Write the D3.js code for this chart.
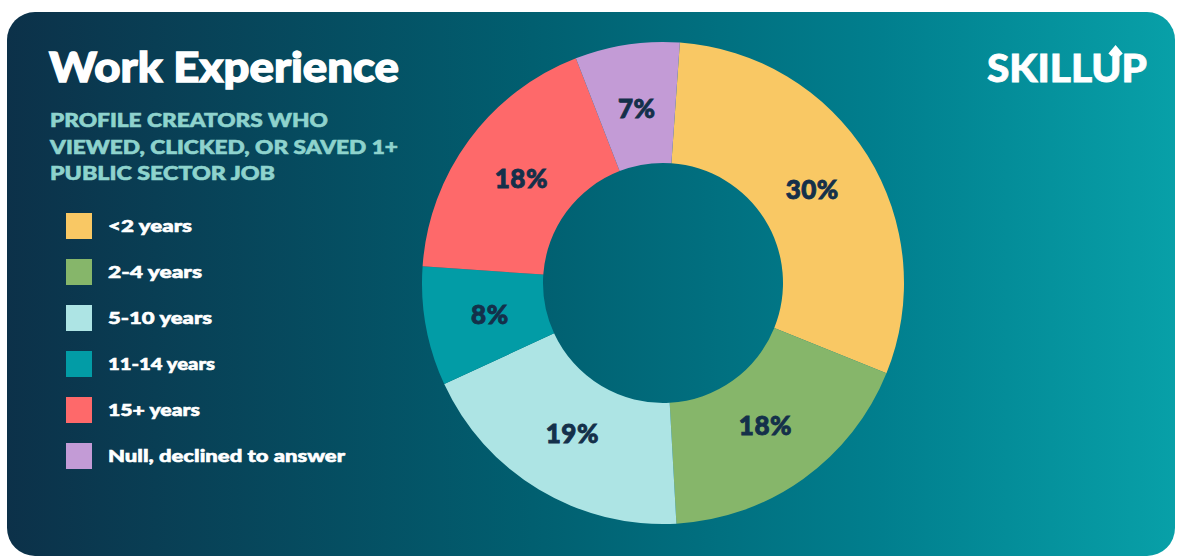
<!DOCTYPE html>
<html>
<head>
<meta charset="utf-8">
<script src="https://cdn.jsdelivr.net/npm/d3@7"></script>
<style>
  body { margin: 0; background: #ffffff; }
  svg { display: block; }
  text { font-family: Lato, "Noto Sans", sans-serif; }
</style>
</head>
<body>
<div id="chart"></div>
<script>
// data
const categories = ["<2 years", "2-4 years", "5-10 years", "11-14 years", "15+ years", "Null, declined to answer"];
const shares = [30, 18, 19, 8, 18, 7];
const sliceColors = ["#f9c864", "#86b66a", "#ade4e4", "#029ca6", "#fe696a", "#c39bd6"];
const titleText = "Work Experience";
const subtitleLines = ["PROFILE CREATORS WHO", "VIEWED, CLICKED, OR SAVED 1+", "PUBLIC SECTOR JOB"];

const width = 1177, height = 557;

const svg = d3.select("#chart").append("svg")
    .attr("width", width)
    .attr("height", height);

// stretch a text to a wanted width (the source font is wider than Lato)
function fitWidth(sel, w) {
    sel.attr("textLength", w).attr("lengthAdjust", "spacingAndGlyphs");
}

// background card
const defs = svg.append("defs");
const grad = defs.append("linearGradient")
    .attr("id", "bg")
    .attr("x1", "0%").attr("x2", "100%")
    .attr("y1", "0%").attr("y2", "0%");
grad.append("stop").attr("offset", "0%").attr("stop-color", "#0c3149");
grad.append("stop").attr("offset", "45%").attr("stop-color", "#015f70");
grad.append("stop").attr("offset", "75%").attr("stop-color", "#017f8e");
grad.append("stop").attr("offset", "100%").attr("stop-color", "#08a0a8");

svg.append("rect")
    .attr("x", 7).attr("y", 12)
    .attr("width", 1168).attr("height", 544)
    .attr("rx", 28)
    .attr("fill", "url(#bg)");

// title + subtitle
svg.append("text")
    .attr("x", 49).attr("y", 82)
    .attr("fill", "#ffffff")
    .attr("stroke", "#ffffff").attr("stroke-width", 1.3)
    .attr("font-size", 41)
    .attr("font-weight", 900)
    .text(titleText)
    .call(fitWidth, 350);

const subWidths = [278, 348, 225];
svg.append("g").selectAll("text")
    .data(subtitleLines)
    .join("text")
    .attr("x", 50)
    .attr("y", (d, i) => 127 + i * 26.5)
    .attr("fill", "#8ed3cd")
    .attr("stroke", "#8ed3cd").attr("stroke-width", 0.6)
    .attr("font-size", 18)
    .attr("font-weight", 900)
    .text(d => d)
    .each(function (d, i) { d3.select(this).call(fitWidth, subWidths[i]); });

// legend
const legend = svg.append("g").attr("class", "legend");
const legendY = d3.scalePoint()
    .domain(categories)
    .range([213, 443]);

const rows = legend.selectAll("g")
    .data(categories)
    .join("g")
    .attr("transform", d => `translate(66,${legendY(d)})`);

rows.append("rect")
    .attr("width", 26).attr("height", 26)
    .attr("fill", (d, i) => sliceColors[i]);

const labelWidths = [84, 94, 104, 107, 92, 237];
rows.append("text")
    .attr("x", 42).attr("y", 19)
    .attr("fill", "#ffffff")
    .attr("stroke", "#ffffff").attr("stroke-width", 0.6)
    .attr("font-size", 17.5)
    .attr("font-weight", 900)
    .text(d => d)
    .each(function (d, i) { d3.select(this).call(fitWidth, labelWidths[i]); });

// donut
const cx = 663, cy = 283;
const outerR = 241, innerR = 120;
const offset = 0.07;

const pie = d3.pie()
    .sort(null)
    .startAngle(offset)
    .endAngle(offset + 2 * Math.PI)
    .value(d => d);

const arc = d3.arc()
    .innerRadius(innerR)
    .outerRadius(outerR);

const labelArc = d3.arc()
    .innerRadius(176)
    .outerRadius(176);

const donut = svg.append("g")
    .attr("transform", `translate(${cx},${cy})`);

const arcs = pie(shares);

donut.selectAll("path")
    .data(arcs)
    .join("path")
    .attr("d", arc)
    .attr("fill", (d, i) => sliceColors[i]);

donut.selectAll("text")
    .data(arcs)
    .join("text")
    .attr("transform", d => `translate(${labelArc.centroid(d)})`)
    .attr("text-anchor", "middle")
    .attr("dy", "0.36em")
    .attr("fill", "#14304a")
    .attr("stroke", "#14304a").attr("stroke-width", 0.9)
    .attr("font-size", 26)
    .attr("font-weight", 900)
    .attr("letter-spacing", 0.5)
    .text(d => d.data + "%");

// logo
const logo = svg.append("text")
    .attr("x", 987).attr("y", 82)
    .attr("fill", "#ffffff")
    .attr("stroke", "#ffffff").attr("stroke-width", 0.8)
    .attr("font-size", 38)
    .attr("font-weight", 900)
    .text("SKILLUP")
    .call(fitWidth, 160);

// arrow on the U
const node = logo.node();
const uRight = 987 + node.getSubStringLength(0, 6) - 6;
svg.append("path")
    .attr("d", `M${uRight},70 L${uRight},49 M${uRight - 5.5},55 L${uRight},48.5 L${uRight + 5.5},55`)
    .attr("stroke", "#ffffff")
    .attr("stroke-width", 4.5)
    .attr("fill", "none");
</script>
</body>
</html>
